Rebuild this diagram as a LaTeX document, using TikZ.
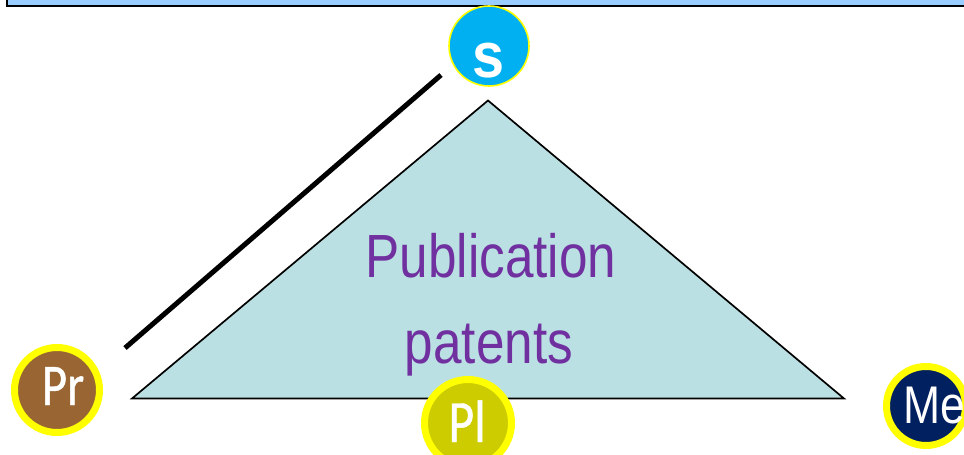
\documentclass[tikz,border=0pt]{standalone}
\usepackage{fontspec}
\setmainfont{Liberation Sans}
\newfontfamily\narrowsans[FakeStretch=0.84]{Liberation Sans}
\newfontfamily\boldsans[FakeStretch=0.9]{Liberation Sans Bold}
\newfontfamily\calsans[FakeStretch=0.83, FakeBold=0.8]{Carlito}
\definecolor{bannerblue}{HTML}{99CCFF}
\definecolor{trifill}{HTML}{BBE0E3}
\definecolor{textpurple}{HTML}{7030A0}
\definecolor{sblue}{HTML}{00B0F0}
\definecolor{prbrown}{HTML}{996633}
\definecolor{plolive}{HTML}{CCCC00}
\definecolor{menavy}{HTML}{002060}
\definecolor{ring}{HTML}{FFFF00}
\tikzset{
  role/.style={circle, draw=ring, line width=7pt, inner sep=0pt, minimum size=#1},
  label/.style={text=white, inner sep=0pt, anchor=base},
  bigtext/.style={text=textpurple, font=\narrowsans\fontsize{61}{61}\selectfont, inner sep=0pt, anchor=base},
}
\begin{document}
\begin{tikzpicture}[x=1pt, y=-1pt]
\useasboundingbox (0,0) rectangle (964,455);
\clip (0,0) rectangle (964,455);
% banner along the top edge
\draw[fill=bannerblue, line width=2pt] (7,-20) rectangle (990,6);
% separating bar
\draw[line width=5pt] (125,348) -- (441,75);
% central triangle
\coordinate (tl) at (132,398.5);
\coordinate (tt) at (488,100.5);
\coordinate (tr) at (844,398.5);
\draw[fill=trifill, line width=1.7pt, line join=miter] (tl) -- (tt) -- (tr) -- cycle;
\node[bigtext] (pub) at (491,277) {Publication};
\node[bigtext] (pat) at (489,363) {patents};
% role circles
\node[circle, draw=ring, line width=1.6pt, fill=sblue, minimum size=80pt, inner sep=0pt] (s) at (489,46) {};
\node[label, font=\boldsans\fontsize{64}{64}\selectfont] (st) at (489,77) {s};
\node[role=85pt, fill=prbrown] (pr) at (57,390) {};
\node[label, font=\calsans\fontsize{59}{59}\selectfont] (prt) at (63,405) {Pr};
\node[role=87pt, fill=plolive] (pl) at (468,423) {};
\node[label, font=\calsans\fontsize{60}{60}\selectfont] (plt) at (467,442) {Pl};
\node[role=79pt, fill=menavy] (me) at (926,406) {};
\node[label, anchor=base west, font=\narrowsans\fontsize{53}{53}\selectfont] (met) at (903,423) {Me};
\end{tikzpicture}
\end{document}
